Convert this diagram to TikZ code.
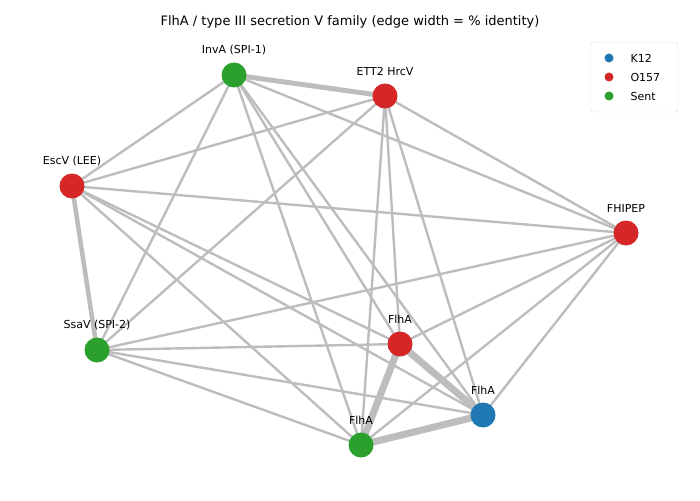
\documentclass[tikz,border=0pt]{standalone}
\usepackage{fontspec}
\setmainfont{DejaVu Sans}
\definecolor{cg}{HTML}{2CA02C}
\definecolor{cr}{HTML}{D62728}
\definecolor{cb}{HTML}{1F77B4}
\definecolor{ed}{HTML}{BDBDBD}
\begin{document}
\begin{tikzpicture}[x=1pt,y=-1pt,
  e/.style={draw=ed,line width=2.4pt},
  n/.style={circle,minimum size=25pt,inner sep=0pt,fill=#1},
  lab/.style={font=\fontsize{11}{13}\selectfont,anchor=south}]
\useasboundingbox (0,0) rectangle (700,500);
\coordinate (a) at (234,75);
\coordinate (b) at (385,96);
\coordinate (c) at (72,186);
\coordinate (d) at (626,233);
\coordinate (s) at (97,350);
\coordinate (r) at (400,344);
\coordinate (u) at (483,415);
\coordinate (g) at (361,445);
\foreach \p/\q in {a/c,a/s,a/g,a/r,a/u,a/d,b/c,b/s,b/g,b/r,b/u,b/d,c/d,c/r,c/u,c/g,d/s,d/r,d/u,d/g,s/r,s/u,s/g}
  \draw[e] (\p) -- (\q);
\draw[e,line width=5pt] (a) -- (b);
\draw[e,line width=4.5pt] (c) -- (s);
\draw[e,line width=7pt] (r) -- (g);
\draw[e,line width=7pt] (r) -- (u);
\draw[e,line width=7pt] (g) -- (u);
\node[n=cg] (na) at (a) {};
\node[n=cr] (nb) at (b) {};
\node[n=cr] (nc) at (c) {};
\node[n=cr] (nd) at (d) {};
\node[n=cg] (ns) at (s) {};
\node[n=cr] (nr) at (r) {};
\node[n=cb] (nu) at (u) {};
\node[n=cg] (ng) at (g) {};
\node[lab] (la) at (234,58) {InvA (SPI-1)};
\node[lab] (lb) at (385,79) {ETT2 HrcV};
\node[lab] (lc) at (72,169) {EscV (LEE)};
\node[lab] (ld) at (626,216) {FHIPEP};
\node[lab] (ls) at (97,333) {SsaV (SPI-2)};
\node[lab] (lr) at (400,327) {FlhA};
\node[lab] (lu) at (483,398) {FlhA};
\node[lab] (lg) at (361,428) {FlhA};
\node[font=\fontsize{13}{15}\selectfont] (t) at (350,22) {FlhA / type III secretion V family (edge width = \% identity)};
\draw[rounded corners=3pt,draw=black!15,fill=white] (590,42) rectangle (678,112);
\foreach \y/\c/\t in {58/cb/K12,77/cr/O157,96/cg/Sent}{
  \fill[\c] (609,\y) circle (4.5pt);
  \node[anchor=west,font=\fontsize{11}{13}\selectfont] at (627,\y) {\t};}
\end{tikzpicture}
\end{document}
